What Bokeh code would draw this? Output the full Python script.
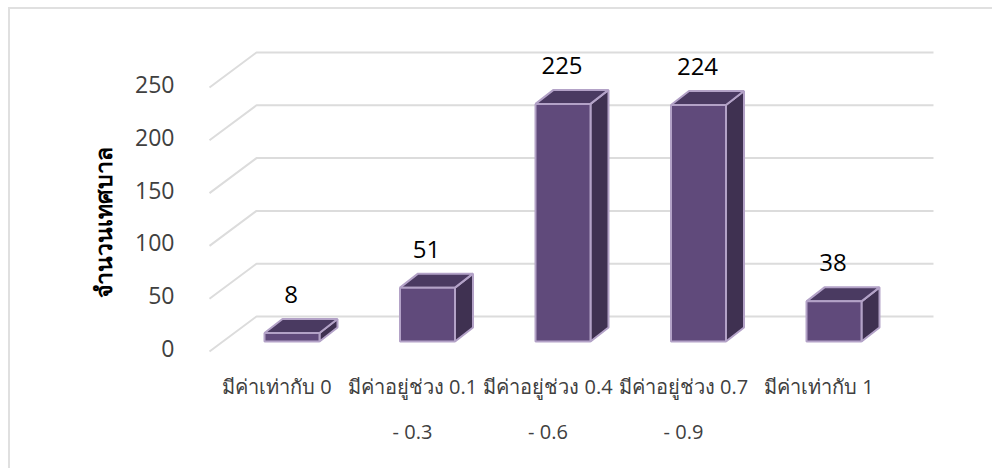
from bokeh.plotting import figure
from bokeh.embed import file_html
from bokeh.resources import INLINE
from bokeh.models import Range1d, FixedTicker, LinearAxis, Title
from bokeh.core.properties import value

categories_line1 = ["มีค่าเท่ากับ 0", "มีค่าอยู่ช่วง 0.1", "มีค่าอยู่ช่วง 0.4", "มีค่าอยู่ช่วง 0.7", "มีค่าเท่ากับ 1"]
categories_line2 = ["", "- 0.3", "- 0.6", "- 0.9", ""]
counts = [8, 51, 225, 224, 38]
y_ticks = [0, 50, 100, 150, 200, 250]
y_title = "จำนวนเทศบาล"

FONT = "Open Sans"
OX, OY = 8, 7       # where the chart box starts on the page
W, H = 984, 461
L, R, T, B = 192, 44, 33, 113   # frame borders, px
PY = 1.056          # px per value
PX = 135.5          # px per category
x0_page, y0_page = 276.5, 348   # page position of category 0 / value 0
fl, fr, ft, fb = OX + L, OX + W - R, OY + T, OY + H - B
xr = Range1d((fl - x0_page) / PX, (fr - x0_page) / PX)
yr = Range1d((y0_page - fb) / PY, (y0_page - ft) / PY)

p = figure(width=W, height=H, x_range=xr, y_range=yr, toolbar_location=None,
           output_backend="svg", min_border_left=L, min_border_right=R,
           min_border_top=T, min_border_bottom=B, outline_line_color=None,
           border_fill_alpha=0, background_fill_alpha=0, margin=(OY, 0, 0, OX),
           x_axis_location="below", y_axis_location="left")
p.grid.visible = False
p.styles = {"box-shadow": "inset 2px 2px 0 #e0e0e0"}

dx = lambda px: px / PX
dy = lambda px: px / PY
GRID = "#dcdcdc"
wall_x0 = dx(209 - x0_page)
wall_x1 = dx(256 - x0_page)
wall_x2 = dx(933 - x0_page)
for t in y_ticks:
    p.line([wall_x0, wall_x1, wall_x2], [t + dy(-3), t + dy(32), t + dy(32)],
           line_color=GRID, line_width=2)

SHIFT = dx(15)      # bars stand right of their tick label
HALF = dx(27.5)
DX, DY = dx(18), dy(14)
base = dy(7)
front_x, front_y, top_x, top_y, side_x, side_y = [], [], [], [], [], []
for i, c in enumerate(counts):
    l, r = i + SHIFT - HALF, i + SHIFT + HALF
    b, t = base, base + c
    front_x.append([l, r, r, l]); front_y.append([b, b, t, t])
    top_x.append([l, r, r + DX, l + DX]); top_y.append([t, t, t + DY, t + DY])
    side_x.append([r, r + DX, r + DX, r]); side_y.append([b, b + DY, t + DY, t])
EDGE = "#b3a2c7"
p.patches(side_x, side_y, fill_color="#3f3151", line_color=EDGE, line_width=2)
p.patches(top_x, top_y, fill_color="#4a3a61", line_color=EDGE, line_width=2)
p.patches(front_x, front_y, fill_color="#604a7b", line_color=EDGE, line_width=2)

p.text([i + SHIFT - dx(1) for i in range(5)], [base + c + DY + dy(16) for c in counts],
       text=[str(c) for c in counts],
       text_font=value(FONT), text_font_size="24px", text_color="#000000",
       text_align="center", text_baseline="bottom")

ax = p.yaxis[0]
ax.ticker = FixedTicker(ticks=y_ticks)
ax.axis_line_color = None
ax.major_tick_line_color = None
ax.minor_tick_line_color = None
ax.major_label_standoff = 20
ax.major_label_text_font = FONT
ax.major_label_text_font_size = "23px"
ax.major_label_text_font_style = "normal"
ax.major_label_text_color = "#404040"

p.add_layout(Title(text=y_title, align="left", offset=58, standoff=27,
                   text_font=FONT, text_font_size="23px", text_font_style="bold",
                   text_color="#000000"), "left")

def style_x(a, labels, standoff):
    a.ticker = FixedTicker(ticks=list(range(5)))
    a.major_label_overrides = {i: s if s else " " for i, s in enumerate(labels)}
    a.axis_line_color = None
    a.major_tick_line_color = None
    a.minor_tick_line_color = None
    a.major_label_standoff = standoff
    a.major_label_text_font = FONT
    a.major_label_text_font_size = "20px"
    a.major_label_text_color = "#404040"

style_x(p.xaxis[0], categories_line1, 11)
ax2 = LinearAxis()
style_x(ax2, categories_line2, 9)
p.add_layout(ax2, "below")

open("out.html", "w").write(file_html(p, INLINE))
